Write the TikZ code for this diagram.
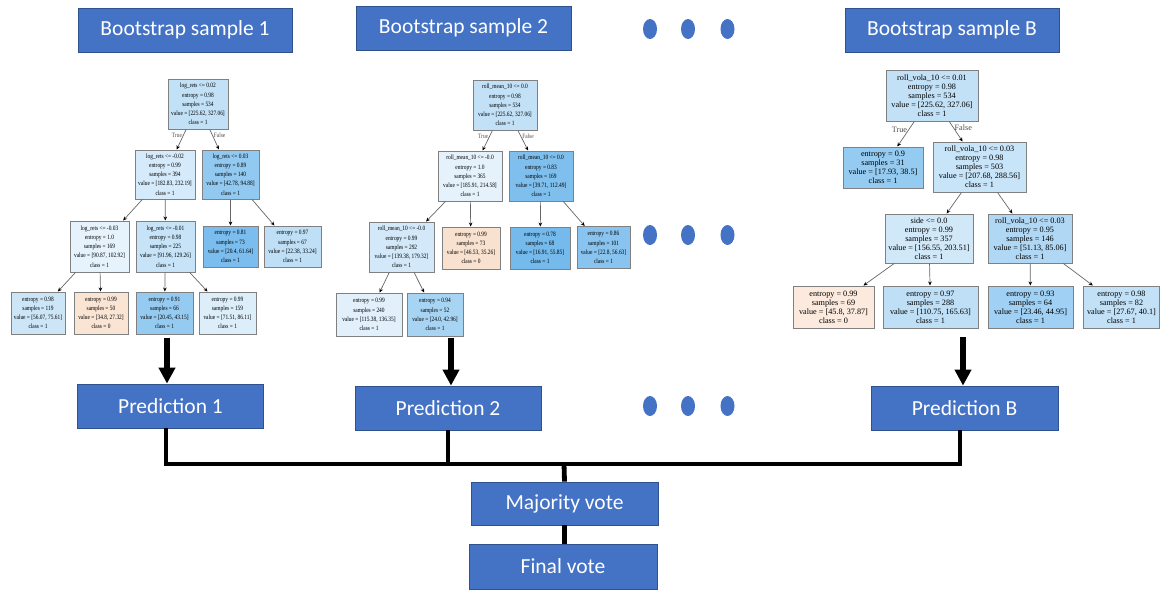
\documentclass[tikz,border=0pt]{standalone}
\usepackage{fontspec}
\setmainfont{Liberation Serif}
\newfontfamily\boxfont{Carlito}
\newfontfamily\treenarrow[FakeStretch=0.82]{Liberation Serif}
\usetikzlibrary{arrows.meta,shapes.geometric}

\definecolor{clsone}{HTML}{399DE5}
\definecolor{clszero}{HTML}{E58139}
\definecolor{office}{HTML}{4472C4}
\definecolor{officeedge}{HTML}{2F528F}
\definecolor{treeline}{HTML}{808080}

\tikzset{
  bluebox/.style={draw=officeedge, line width=0.8pt, fill=office, text=white,
    font=\boxfont\fontsize{21.5}{25}\selectfont, inner sep=0pt},
  wh/.style 2 args={minimum width=#1pt, minimum height=#2pt},
  tn/.style={draw=treeline, line width=1pt, inner sep=0.5pt, align=center},
  tsm/.style={tn, font=\treenarrow\fontsize{6.6}{9.2}\selectfont},
  tlg/.style={tn, font=\fontsize{8.2}{9}\selectfont},
  one/.style={fill=clsone!#1!white},
  zero/.style={fill=clszero!#1!white},
  tedge/.style={draw=black!60, line width=0.7pt, -{Stealth[length=4pt,width=3.6pt,color=black]}},
  lblsm/.style={font=\treenarrow\fontsize{6.6}{8}\selectfont, text=black!70, inner sep=1pt},
  lbllg/.style={font=\fontsize{8.2}{9}\selectfont, text=black!70, inner sep=1pt},
  bigarrow/.style={line width=6pt, -{Triangle[length=16pt,width=16pt]}},
  conn/.style={line width=4.8pt},
  dot/.style={ellipse, fill=office, minimum width=14pt, minimum height=20pt, inner sep=0pt},
}

\begin{document}
\begin{tikzpicture}[x=1pt, y=-1pt]
\useasboundingbox (0,0) rectangle (1161,590);

% ---- headers ----
\node[bluebox, wh={214}{44}] (bs1) at (185,30) {Bootstrap sample 1};
\node[bluebox, wh={215}{44}] (bs2) at (463.5,28) {Bootstrap sample 2};
\node[bluebox, wh={214}{44}] (bsB) at (952,30) {Bootstrap sample B};
\foreach \x [count=\i] in {650,688,727.5} {
  \node[dot] (hd\i) at (\x,29) {};
  \node[dot] (md\i) at (\x,235) {};
  \node[dot] (pd\i) at (\x,406) {};
}

% ---- tree 1 ----
\node[tsm, wh={60}{50}, one=31] (r1) at (198,104) {log\_rets <= 0.02\\entropy = 0.98\\samples = 534\\value = [225.62, 327.06]\\class = 1};
\node[tsm, wh={60}{49}, one=21] (a1) at (165,174.5) {log\_rets <= -0.02\\entropy = 0.99\\samples = 394\\value = [182.83, 232.19]\\class = 1};
\node[tsm, wh={57}{49}, one=55] (b1) at (230.5,174.5) {log\_rets <= 0.03\\entropy = 0.89\\samples = 140\\value = [42.78, 94.88]\\class = 1};
\node[tsm, wh={59}{51}, one=12] (c1) at (99.5,246.5) {log\_rets <= -0.03\\entropy = 1.0\\samples = 169\\value = [90.87, 102.92]\\class = 1};
\node[tsm, wh={59}{51}, one=29] (d1) at (165.5,246.5) {log\_rets <= -0.01\\entropy = 0.98\\samples = 225\\value = [91.96, 129.26]\\class = 1};
\node[tsm, wh={55}{41}, one=67] (e1) at (230.5,246.5) {entropy = 0.81\\samples = 73\\value = [20.4, 61.64]\\class = 1};
\node[tsm, wh={57}{41}, one=33] (f1) at (292.5,246.5) {entropy = 0.97\\samples = 67\\value = [22.38, 33.24]\\class = 1};
\node[tsm, wh={54}{42}, one=26] (g1) at (38,313) {entropy = 0.98\\samples = 119\\value = [56.07, 75.61]\\class = 1};
\node[tsm, wh={54}{42}, zero=21] (h1) at (101,313) {entropy = 0.99\\samples = 50\\value = [34.8, 27.32]\\class = 0};
\node[tsm, wh={57}{42}, one=53] (i1) at (164.5,313) {entropy = 0.91\\samples = 66\\value = [20.45, 43.15]\\class = 1};
\node[tsm, wh={57}{42}, one=17] (j1) at (227.5,313) {entropy = 0.99\\samples = 159\\value = [71.51, 86.11]\\class = 1};

\draw[tedge] (r1) -- node[lblsm, pos=0.3, anchor=east] {True} (a1);
\draw[tedge] (r1) -- node[lblsm, pos=0.3, anchor=west] {False} (b1);
\draw[tedge] (a1) -- (c1);
\draw[tedge] (a1) -- (d1);
\draw[tedge] (b1) -- (e1);
\draw[tedge] (b1) -- (f1);
\draw[tedge] (c1) -- (g1);
\draw[tedge] (c1) -- (h1);
\draw[tedge] (d1) -- (i1);
\draw[tedge] (d1) -- (j1);

% ---- tree 2 ----
\node[tsm, wh={64}{50}, one=31] (r2) at (505,105) {roll\_mean\_10 <= 0.0\\entropy = 0.98\\samples = 534\\value = [225.62, 327.06]\\class = 1};
\node[tsm, wh={64}{50}, one=13] (a2) at (470,176) {roll\_mean\_10 <= -0.0\\entropy = 1.0\\samples = 365\\value = [185.91, 214.58]\\class = 1};
\node[tsm, wh={64}{50}, one=65] (b2) at (541,176) {roll\_mean\_10 <= 0.0\\entropy = 0.83\\samples = 169\\value = [39.71, 112.49]\\class = 1};
\node[tsm, wh={65}{50}, one=22] (c2) at (401.5,247) {roll\_mean\_10 <= -0.0\\entropy = 0.99\\samples = 292\\value = [139.38, 179.32]\\class = 1};
\node[tsm, wh={58}{42}, zero=24] (d2) at (471,248) {entropy = 0.99\\samples = 73\\value = [46.53, 35.26]\\class = 0};
\node[tsm, wh={60}{42}, one=70] (e2) at (540,248) {entropy = 0.78\\samples = 68\\value = [16.91, 55.85]\\class = 1};
\node[tsm, wh={53}{42}, one=60] (f2) at (603.5,247.5) {entropy = 0.86\\samples = 101\\value = [22.8, 56.63]\\class = 1};
\node[tsm, wh={66}{43}, one=15] (g2) at (369,314.5) {entropy = 0.99\\samples = 240\\value = [115.38, 136.35]\\class = 1};
\node[tsm, wh={56}{43}, one=44] (h2) at (435,314.5) {entropy = 0.94\\samples = 52\\value = [24.0, 42.96]\\class = 1};

\draw[tedge] (r2) -- node[lblsm, pos=0.3, anchor=east] {True} (a2);
\draw[tedge] (r2) -- node[lblsm, pos=0.3, anchor=west] {False} (b2);
\draw[tedge] (a2) -- (c2);
\draw[tedge] (a2) -- (d2);
\draw[tedge] (b2) -- (e2);
\draw[tedge] (b2) -- (f2);
\draw[tedge] (c2) -- (g2);
\draw[tedge] (c2) -- (h2);

% ---- tree B ----
\node[tlg, wh={92}{51}, one=31] (rB) at (932,95.5) {roll\_vola\_10 <= 0.01\\entropy = 0.98\\samples = 534\\value = [225.62, 327.06]\\class = 1};
\node[tlg, wh={80}{41}, one=53] (aB) at (883,167.5) {entropy = 0.9\\samples = 31\\value = [17.93, 38.5]\\class = 1};
\node[tlg, wh={93}{50}, one=28] (bB) at (979.5,167) {roll\_vola\_10 <= 0.03\\entropy = 0.98\\samples = 503\\value = [207.68, 288.56]\\class = 1};
\node[tlg, wh={88}{49}, one=23] (cB) at (929,238.5) {side <= 0.0\\entropy = 0.99\\samples = 357\\value = [156.55, 203.51]\\class = 1};
\node[tlg, wh={84}{49}, one=40] (dB) at (1030,238.5) {roll\_vola\_10 <= 0.03\\entropy = 0.95\\samples = 146\\value = [51.13, 85.06]\\class = 1};
\node[tlg, wh={81}{42}, zero=17] (eB) at (833.5,307) {entropy = 0.99\\samples = 69\\value = [45.8, 37.87]\\class = 0};
\node[tlg, wh={95}{42}, one=33] (fB) at (930.5,307) {entropy = 0.97\\samples = 288\\value = [110.75, 165.63]\\class = 1};
\node[tlg, wh={85}{42}, one=48] (gB) at (1030.5,307) {entropy = 0.93\\samples = 64\\value = [23.46, 44.95]\\class = 1};
\node[tlg, wh={76}{42}, one=31] (hB) at (1121.5,307) {entropy = 0.98\\samples = 82\\value = [27.67, 40.1]\\class = 1};

\draw[tedge] (rB) -- node[lbllg, pos=0.35, anchor=east] {True} (aB);
\draw[tedge] (rB) -- node[lbllg, pos=0.3, anchor=west] {False} (bB);
\draw[tedge] (bB) -- (cB);
\draw[tedge] (bB) -- (dB);
\draw[tedge] (cB) -- (eB);
\draw[tedge] (cB) -- (fB);
\draw[tedge] (dB) -- (gB);
\draw[tedge] (dB) -- (hB);

% ---- predictions and vote ----
\node[bluebox, wh={186}{44}] (pr1) at (170.5,406) {Prediction 1};
\node[bluebox, wh={186}{44}] (pr2) at (448,408) {Prediction 2};
\node[bluebox, wh={187}{44}] (prB) at (964.5,408) {Prediction B};
\node[bluebox, wh={187}{43}] (mv) at (564.5,503.5) {Majority vote};
\node[bluebox, wh={188}{45}] (fv) at (563,566.5) {Final vote};

\coordinate (t1) at (167,338);
\coordinate (t2) at (451,338);
\coordinate (tB) at (963,337);
\draw[bigarrow] (t1) -- (t1 |- pr1.north);
\draw[bigarrow] (t2) -- (t2 |- pr2.north);
\draw[bigarrow] (tB) -- (tB |- prB.north);

\coordinate (bus) at (564,464);
\draw[conn] ([xshift=-4.5pt]pr1.south) |- (bus) -| ([xshift=-4.5pt]prB.south);
\draw[conn] (pr2.south) -- (pr2.south |- bus);
\draw[conn] (bus) -- (mv.north);
\draw[conn] (mv.south) -- (mv.south |- fv.north);
\end{tikzpicture}
\end{document}
